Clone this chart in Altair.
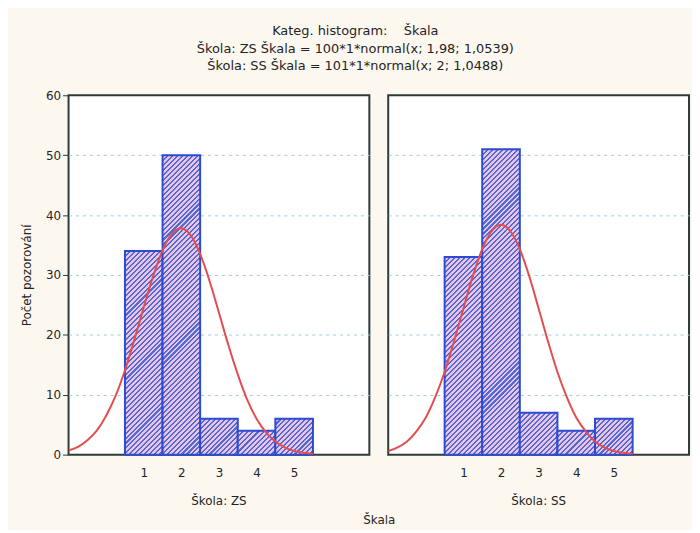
import altair as alt
import pandas as pd

# ---- data ----
categories = [1, 2, 3, 4, 5]
zs_counts = [34, 50, 6, 4, 6]
ss_counts = [33, 51, 7, 4, 6]
curve_x = [-1.0, -0.75, -0.5, -0.25, 0.0, 0.25, 0.5, 0.75, 1.0, 1.25, 1.5, 1.75, 2.0,
           2.25, 2.5, 2.75, 3.0, 3.25, 3.5, 3.75, 4.0, 4.25, 4.5, 4.75, 5.0, 5.25, 5.5]
zs_curve = [0.7, 1.3, 2.4, 4.0, 6.5, 9.8, 14.1, 19.2, 24.6, 29.8, 34.1, 36.9, 37.8,
            36.6, 33.5, 29.0, 23.7, 18.3, 13.4, 9.2, 6.0, 3.7, 2.2, 1.2, 0.6, 0.3, 0.1]
ss_curve = [0.6, 1.2, 2.2, 3.9, 6.2, 9.6, 13.8, 18.9, 24.4, 29.8, 34.3, 37.3, 38.4,
            37.3, 34.3, 29.8, 24.4, 18.9, 13.8, 9.6, 6.2, 3.9, 2.2, 1.2, 0.6, 0.3, 0.1]
schools = ["ZS", "SS"]
y_ticks = [0, 10, 20, 30, 40, 50, 60]
title_lines = [
    "Kateg. histogram:\u00a0\u00a0\u00a0\u00a0Škala",
    "Škola: ZS Škala = 100*1*normal(x; 1,98; 1,0539)",
    "Škola: SS Škala = 101*1*normal(x; 2; 1,0488)",
]

# ---- layout / style ----
PW, PH = 303, 362
X_DOM = [-1, 7]
Y_DOM = [0, 60]
BAR_W = PW / (X_DOM[1] - X_DOM[0])
Y_PX = PH / (Y_DOM[1] - Y_DOM[0])
FONT = "DejaVu Sans"
TXT = "#1f2424"

counts = {"ZS": zs_counts, "SS": ss_counts}
curves = {"ZS": zs_curve, "SS": ss_curve}

rows = []
for s in schools:
    for c, v in zip(categories, counts[s]):
        rows.append(dict(kind="bar", school=s, cat=c, x0=c - 0.5, x1=c + 0.5, cnt=v, y0=0))
    for x, y in zip(curve_x, curves[s]):
        rows.append(dict(kind="curve", school=s, cx=x, cy=y))
df = pd.DataFrame(rows)


def hatch(w, h, period=5.0, frac=0.42, c1="#4d6cd4", c2="#eec3e5"):
    kk = (w * w + h * h) / (w + h)
    n = max(1, int(round((w + h) / period)))
    stops = []
    for i in range(n):
        a, b, c = i / n, (i + frac) / n, (i + 1) / n
        stops += [alt.GradientStop(color=c1, offset=round(a, 6)),
                  alt.GradientStop(color=c1, offset=round(b, 6)),
                  alt.GradientStop(color=c2, offset=round(b, 6)),
                  alt.GradientStop(color=c2, offset=round(c, 6))]
    return alt.LinearGradient(gradient="linear", stops=stops,
                              x1=0, y1=0, x2=w / kk, y2=h / kk)


xscale = alt.Scale(domain=X_DOM, nice=False, zero=False)
yscale = alt.Scale(domain=Y_DOM, nice=False)
xaxis = alt.Axis(values=categories, title=None, ticks=False, tickSize=0, domain=False,
                 grid=False, labelFontSize=12, labelPadding=11, labelColor=TXT,
                 labelFont=FONT)
yaxis = alt.Axis(values=y_ticks, title="Počet pozorování", domain=False,
                 grid=True, gridColor="#9ccbe4", gridDash=[3, 4], gridWidth=1,
                 gridOpacity={"condition": {"test": "datum.value === 0 || datum.value === 60",
                                            "value": 0}, "value": 1},
                 ticks=True, tickSize=5, tickColor="#333", tickWidth=1,
                 labelFontSize=12, labelPadding=2, labelColor=TXT, labelFont=FONT,
                 titleFontSize=12, titleFontWeight="normal", titleColor=TXT,
                 titleFont=FONT, titlePadding=12)

layers = []
for s in schools:
    for c, v in zip(categories, counts[s]):
        layers.append(
            alt.Chart().mark_bar(fill=hatch(BAR_W, v * Y_PX), stroke="#2a4bd2",
                                 strokeWidth=2)
            .encode(x=alt.X("x0:Q", scale=xscale, axis=xaxis), x2="x1:Q",
                    y=alt.Y("cnt:Q", scale=yscale, axis=yaxis), y2="y0:Q")
            .transform_filter(f"datum.kind == 'bar' && datum.school == '{s}' && datum.cat == {c}")
        )

curve = (
    alt.Chart().mark_line(color="#e44c4f", strokeWidth=2, interpolate="monotone", clip=True)
    .encode(x=alt.X("cx:Q", scale=xscale, axis=xaxis),
            y=alt.Y("cy:Q", scale=yscale, axis=yaxis))
    .transform_filter("datum.kind == 'curve'")
)
layers.append(curve)

chart = (
    alt.layer(*layers)
    .properties(width=PW, height=PH)
    .facet(
        column=alt.Column("school:N", sort=schools,
                          header=alt.Header(title="Škala", titleOrient="bottom",
                                            labelOrient="bottom",
                                            labelExpr="'Škola: ' + datum.value",
                                            labelFontSize=12, labelFont=FONT,
                                            labelColor=TXT, labelPadding=18,
                                            titleFontSize=12, titleFont=FONT,
                                            titleColor=TXT, titleFontWeight="normal",
                                            titlePadding=-2)),
        data=df,
        spacing=17,
    )
    .properties(
        title=alt.TitleParams(text=title_lines, fontSize=13, fontWeight="normal",
                              font=FONT, color=TXT, lineHeight=18, anchor="middle",
                              offset=16),
        background="#fdf8ef",
        padding={"left": 12, "top": 15, "right": 2, "bottom": 2},
    )
    .configure_view(fill="white", stroke="#2d3a3a", strokeWidth=2)
)

chart.save("out.html", embed_options={"renderer": "svg", "actions": False})
